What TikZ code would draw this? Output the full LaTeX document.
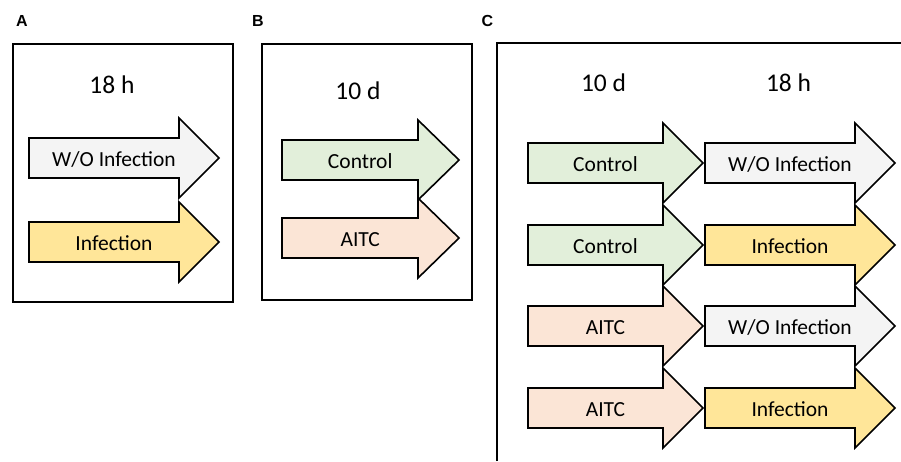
\documentclass[tikz,border=0pt]{standalone}
\usepackage{fontspec}
\setmainfont{Carlito}
\newfontfamily\labelfont{Liberation Sans Bold}
\newcommand{\tagtext}[1]{{\labelfont\fontsize{16}{18}\selectfont #1}}
\definecolor{fillnone}{HTML}{F4F4F4}
\definecolor{fillinf}{HTML}{FFE699}
\definecolor{fillctl}{HTML}{E2EFDA}
\definecolor{fillaitc}{HTML}{FBE5D6}
\tikzset{
  panelframe/.style={draw=black, line width=2pt},
  flowshape/.style={draw=black, line width=1.6pt, line join=miter},
  flowtext/.style={anchor=base, inner sep=0pt, font=\fontsize{21.5}{24}\selectfont},
  periodtext/.style={anchor=base, inner sep=0pt, font=\fontsize{25.5}{28}\selectfont},
  paneltag/.style={anchor=base, inner sep=0pt}
}
% #1 fill, #2 left x, #3 head start x, #4 tip x, #5 centre y, #6 node name, #7 text
\newcommand{\flowarrow}[7]{%
  \draw[flowshape, fill=#1]
    (#2,#5-20) -- (#3,#5-20) -- (#3,#5-40) -- (#4,#5) -- (#3,#5+40)
    -- (#3,#5+20) -- (#2,#5+20) -- cycle;
  \node[flowtext] (#6) at ({(#2+(#3+#4)/2)/2},#5+8.3) {#7};
}
\begin{document}
\begin{tikzpicture}[x=1pt,y=-1pt]
\useasboundingbox (0,0) rectangle (901,461);

% Panel A
\node[paneltag] (tagA) at (22,26) {\tagtext{A}};
\draw[panelframe] (13,44) rectangle (233,302);
\node[periodtext] (timeA) at (112,93) {18 h};
\flowarrow{fillnone}{29}{179}{219}{158}{aNone}{W/O Infection}
\flowarrow{fillinf}{29}{179}{219}{242}{aInf}{Infection}

% Panel B
\node[paneltag] (tagB) at (258,26) {\tagtext{B}};
\draw[panelframe] (262,44) rectangle (472,300);
\node[periodtext] (timeB) at (358,99) {10 d};
\flowarrow{fillctl}{282}{418}{459}{160}{bCtl}{Control}
\flowarrow{fillaitc}{282}{418}{459}{238}{bAitc}{AITC}

% Panel C
\node[paneltag] (tagC) at (487.5,26) {\tagtext{C}};
\draw[panelframe] (497,461) -- (497,43) -- (901,43);
\node[periodtext] (timeC1) at (603.5,91) {10 d};
\node[periodtext] (timeC2) at (788.5,91) {18 h};
\flowarrow{fillctl}{528}{663}{703}{163}{c1a}{Control}
\flowarrow{fillnone}{705}{855}{895}{163}{c1b}{W/O Infection}
\flowarrow{fillctl}{528}{663}{703}{245}{c2a}{Control}
\flowarrow{fillinf}{705}{855}{895}{245}{c2b}{Infection}
\flowarrow{fillaitc}{528}{663}{703}{326}{c3a}{AITC}
\flowarrow{fillnone}{705}{855}{895}{326}{c3b}{W/O Infection}
\flowarrow{fillaitc}{528}{663}{703}{408}{c4a}{AITC}
\flowarrow{fillinf}{705}{855}{895}{408}{c4b}{Infection}
\end{tikzpicture}
\end{document}
